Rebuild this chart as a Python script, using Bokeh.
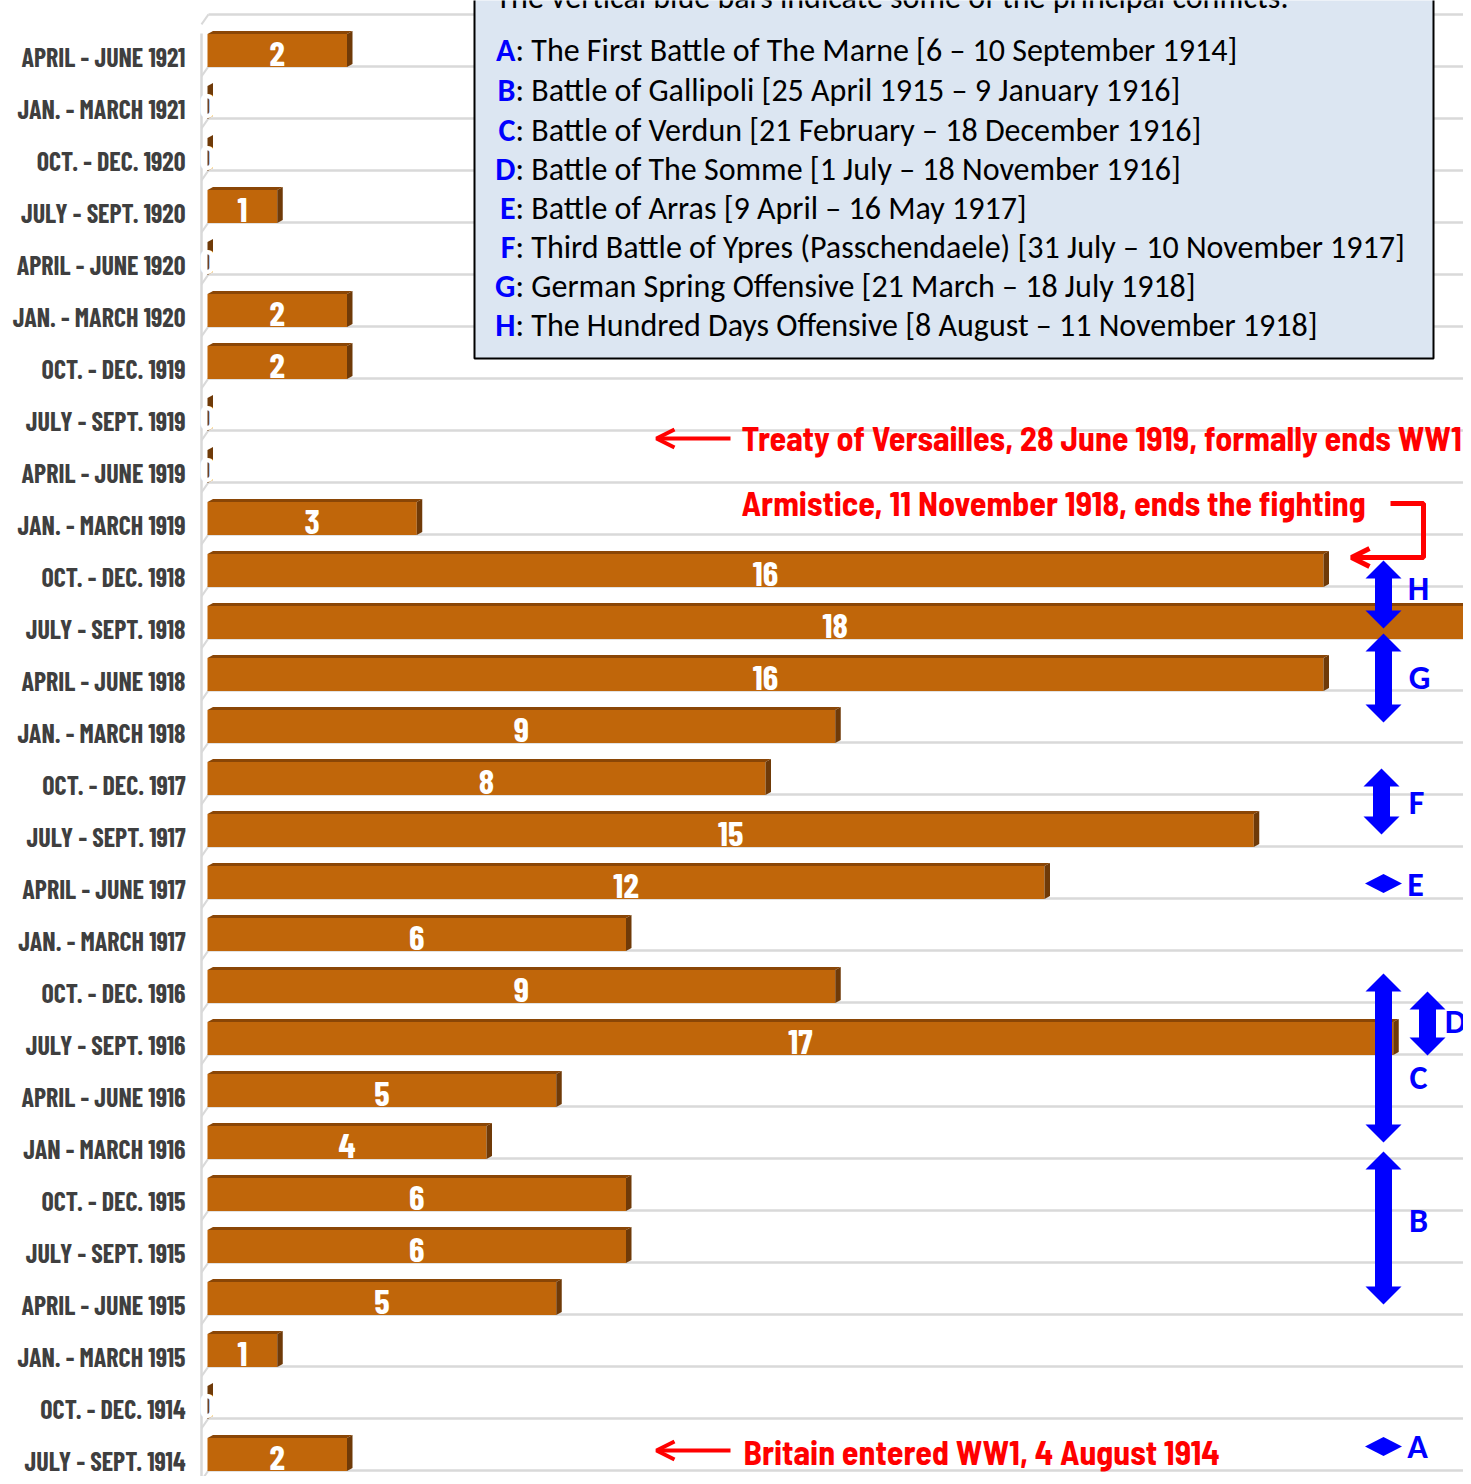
import numpy as np
from bokeh.plotting import figure
from bokeh.models import Range1d, FixedTicker, Arrow, OpenHead
from bokeh.core.properties import value
from bokeh.embed import file_html
from bokeh.resources import INLINE

# ---------------- data (bottom -> top) ----------------
quarters = ["JULY - SEPT. 1914", "OCT. - DEC. 1914", "JAN. - MARCH 1915", "APRIL - JUNE 1915",
            "JULY - SEPT. 1915", "OCT. - DEC. 1915", "JAN - MARCH 1916", "APRIL - JUNE 1916",
            "JULY - SEPT. 1916", "OCT. - DEC. 1916", "JAN. - MARCH 1917", "APRIL - JUNE 1917",
            "JULY - SEPT. 1917", "OCT. - DEC. 1917", "JAN. - MARCH 1918", "APRIL - JUNE 1918",
            "JULY - SEPT. 1918", "OCT. - DEC. 1918", "JAN. - MARCH 1919", "APRIL - JUNE 1919",
            "JULY - SEPT. 1919", "OCT. - DEC. 1919", "JAN. - MARCH 1920", "APRIL - JUNE 1920",
            "JULY - SEPT. 1920", "OCT. - DEC. 1920", "JAN. - MARCH 1921", "APRIL - JUNE 1921"]
counts = [2, 0, 1, 5, 6, 6, 4, 5, 17, 9, 6, 12, 15, 8, 9, 16, 18, 16, 3, 0, 0, 2, 2, 0, 1, 0, 0, 2]

legend_header = "The vertical blue bars indicate some of the principal conflicts:"
conflict_letters = ["A", "B", "C", "D", "E", "F", "G", "H"]
conflict_texts = [
    ": The First Battle of The Marne [6 \u2013 10 September 1914]",
    ": Battle of Gallipoli [25 April 1915 \u2013 9 January 1916]",
    ": Battle of Verdun [21 February \u2013 18 December 1916]",
    ": Battle of The Somme [1 July \u2013 18 November 1916]",
    ": Battle of Arras [9 April \u2013 16 May 1917]",
    ": Third Battle of Ypres (Passchendaele) [31 July \u2013 10 November 1917]",
    ": German Spring Offensive [21 March \u2013 18 July 1918]",
    ": The Hundred Days Offensive [8 August \u2013 11 November 1918]",
]
note_treaty = "Treaty of Versailles, 28 June 1919, formally ends WW1"
note_armistice = "Armistice, 11 November 1918, ends the fighting"
note_britain = "Britain entered WW1, 4 August 1914"

# ---------------- geometry helpers (picture pixels -> data) ----------------
X0, SX = 207.0, 69.75      # px of value 0, px per unit
YC, SY = 1460.0, 52.0      # px of bottom row centre, px per row

def X(px):
    return (px - X0) / SX

def Y(py):
    return (YC - py) / SY

W, H = 1463, 1476
FL = 195  # frame left in px
p = figure(width=W, height=H, output_backend="svg", toolbar_location=None,
           x_range=Range1d(X(FL), X(W)), y_range=Range1d(Y(H), Y(0)),
           x_axis_location=None, min_border_left=FL, min_border_right=0,
           min_border_top=0, min_border_bottom=0, outline_line_color=None,
           background_fill_color="white", border_fill_color="white")
p.grid.visible = False

ax = p.yaxis[0]
ax.ticker = FixedTicker(ticks=list(range(len(quarters))))
ax.major_label_overrides = {i: q for i, q in enumerate(quarters)}
ax.axis_line_color = None
ax.major_tick_line_color = None
ax.minor_tick_line_color = None
ax.major_tick_out = 0
ax.major_tick_in = 0
ax.major_label_standoff = 10
ax.major_label_text_font = "Barlow Condensed"
ax.major_label_text_font_style = "bold"
ax.major_label_text_font_size = "26px"
ax.major_label_text_color = "#3f3f3f"

n = len(quarters)
idx = np.arange(n)
vals = np.array(counts, dtype=float)

# ---------------- grid / floor ----------------
grid_color = "#d9d9d9"
g = np.arange(-1, n) + 0.81
p.segment(x0=X(208), x1=X(W), y0=g, y1=g, line_color=grid_color, line_width=2.5)
p.segment(x0=X(201), x1=X(201), y0=Y(33), y1=Y(H), line_color=grid_color, line_width=2.5)
p.segment(x0=X(201), x1=X(208), y0=g - 10 / SY, y1=g, line_color=grid_color, line_width=2)

# ---------------- 3D bars ----------------
top = idx + 0.433
bot = idx - 0.202
dx, dy = 5.5 / SX, 3.0 / SY
p.quad(left=0, right=vals, bottom=bot, top=top, fill_color="#C0660A", line_color=None)
p.patches(xs=[[0, v, v + dx, dx] for v in vals],
          ys=[[t, t, t + dy, t + dy] for t in top],
          fill_color="#8A4606", line_color=None)
p.patches(xs=[[v, v + dx, v + dx, v] for v in vals],
          ys=[[t, t + dy, b + dy, b] for t, b in zip(top, bot)],
          fill_color="#6F3A08", line_color=None)
p.text(x=vals / 2, y=idx + 0.04, text=[str(c) for c in counts],
       text_align="center", text_baseline="middle", text_color="white",
       text_font=value("Barlow Condensed"), text_font_style="bold", text_font_size="35px")

# ---------------- legend box ----------------
p.quad(left=X(474), right=X(1433), top=Y(-10), bottom=Y(358),
       fill_color="#DCE6F2", line_color="black", line_width=2)
legend_font = value("Carlito")
p.text(x=[X(495)], y=[Y(-3)], text=[legend_header], text_align="left", text_baseline="middle",
       text_color="black", text_font=legend_font, text_font_size="32px")
leg_y = [Y(v) for v in (50, 90, 130, 169, 208, 247, 286, 325)]
p.text(x=[X(515)] * 8, y=leg_y, text=conflict_letters, text_align="right", text_baseline="middle",
       text_color="#0000FF", text_font=legend_font, text_font_style="bold", text_font_size="32px")
p.text(x=[X(515)] * 8, y=leg_y, text=conflict_texts, text_align="left", text_baseline="middle",
       text_color="black", text_font=legend_font, text_font_size="32px")

# ---------------- red notes ----------------
red = "#FF0000"
note_font = value("Barlow Semi Condensed")
p.text(x=[X(741), X(741), X(743)], y=[Y(437), Y(502), Y(1451)],
       text=[note_treaty, note_armistice, note_britain], text_align="left", text_baseline="middle",
       text_color=red, text_font=note_font, text_font_style="bold", text_font_size="34px")
for yy in (438, 1450):
    p.add_layout(Arrow(end=OpenHead(size=18, line_color=red, line_width=4),
                       x_start=X(730), y_start=Y(yy), x_end=X(656), y_end=Y(yy),
                       line_color=red, line_width=4))
p.line(x=[X(1390), X(1423), X(1423), X(1370)], y=[Y(503), Y(503), Y(557), Y(557)],
       line_color=red, line_width=5)
p.add_layout(Arrow(end=OpenHead(size=18, line_color=red, line_width=5),
                   x_start=X(1400), y_start=Y(557), x_end=X(1351), y_end=Y(557),
                   line_color=red, line_width=5))

# ---------------- blue conflict arrows ----------------
blue = "#0000FF"

def vdouble(xc, y1, y2, shaft=17, headw=36, headl=18):
    px = [xc, xc + headw / 2, xc + shaft / 2, xc + shaft / 2, xc + headw / 2, xc,
          xc - headw / 2, xc - shaft / 2, xc - shaft / 2, xc - headw / 2]
    py = [y1, y1 + headl, y1 + headl, y2 - headl, y2 - headl, y2,
          y2 - headl, y2 - headl, y1 + headl, y1 + headl]
    return [X(a) for a in px], [Y(b) for b in py]

def diamond(xc, yc, w=37, h=19):
    px = [xc - w / 2, xc, xc + w / 2, xc]
    py = [yc, yc - h / 2, yc, yc + h / 2]
    return [X(a) for a in px], [Y(b) for b in py]

shapes = [vdouble(1383, 560, 628), vdouble(1383, 633, 722), vdouble(1381, 768, 834),
          diamond(1383, 883), vdouble(1383, 973, 1142), vdouble(1427, 991, 1055),
          vdouble(1383, 1151, 1304), diamond(1383, 1446)]
p.patches(xs=[s[0] for s in shapes], ys=[s[1] for s in shapes], fill_color=blue, line_color=None)

letter_px = [(1418, 588), (1419, 677), (1416, 802), (1415, 884), (1455, 1021),
             (1418, 1077), (1418, 1220), (1417, 1446)]
letter_txt = ["H", "G", "F", "E", "D", "C", "B", "A"]
p.text(x=[X(a) for a, b in letter_px], y=[Y(b) for a, b in letter_px], text=letter_txt,
       text_align="center", text_baseline="middle", text_color=blue,
       text_font=legend_font, text_font_style="bold", text_font_size="34px")

open("out.html", "w").write(file_html(p, INLINE, "WW1 chart"))
